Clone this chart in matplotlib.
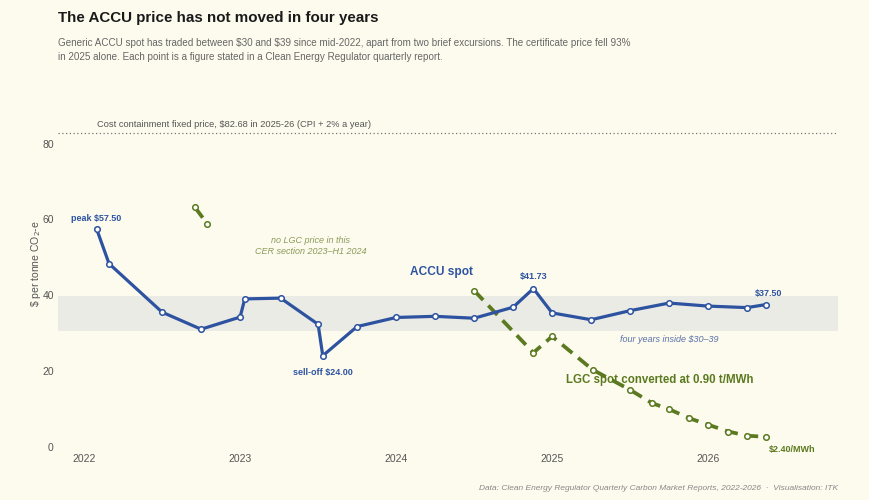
import matplotlib
matplotlib.use("Agg")
from matplotlib import pyplot as plt

plt.rcParams['font.family'] = ['Liberation Sans', 'DejaVu Sans']
plt.rcParams['text.parse_math'] = False

# ACCU generic spot, $/t (CER quarterly reports)
accu_t = [2022.08, 2022.16, 2022.50, 2022.75, 2023.00, 2023.03, 2023.26,
          2023.50, 2023.53, 2023.75, 2024.00, 2024.25, 2024.50, 2024.75,
          2024.88, 2025.00, 2025.25, 2025.50, 2025.75, 2026.00, 2026.25, 2026.37]
accu_p = [57.50, 48.3, 35.5, 31.0, 34.2, 39.0, 39.2,
          32.3, 24.00, 31.7, 34.1, 34.4, 33.9, 36.8,
          41.73, 35.3, 33.5, 35.9, 37.9, 37.1, 36.7, 37.50]

# LGC spot converted to $/t at 0.90 t/MWh
lgc_early_t = [2022.71, 2022.79]
lgc_early_p = [63.2, 58.8]
lgc_t = [2024.50, 2024.88, 2025.00, 2025.26, 2025.50, 2025.64, 2025.75,
         2025.88, 2026.00, 2026.13, 2026.25, 2026.37]
lgc_p = [41.2, 24.8, 29.1, 20.3, 15.0, 11.5, 9.9,
         7.5, 5.8, 4.0, 2.9, 2.6]

band = (30.4, 39.8)
ccp = 82.68
years = [2022, 2023, 2024, 2025, 2026]
yticks = [0, 20, 40, 60, 80]

bg = '#fdfbee'
blue = '#2d53a0'
green = '#5b7a1f'

fig = plt.figure(figsize=(8.7, 5), dpi=100, facecolor=bg)
ax = fig.add_axes([0.0667, 0.1066, 0.8966, 0.667])
ax.set_facecolor(bg)

ax.axhspan(band[0], band[1], color='#ebebe6', zorder=0, lw=0)
ax.axhline(ccp, color='#777777', ls=(0, (1, 2)), lw=0.9, zorder=1)

ax.plot(lgc_early_t, lgc_early_p, color=green, lw=2.7, ls=(0, (3.5, 2)),
        marker='o', ms=4, mfc='white', mec=green, mew=1.1, zorder=2)
ax.plot(lgc_t, lgc_p, color=green, lw=2.7, ls=(0, (3.5, 2)),
        marker='o', ms=4, mfc='white', mec=green, mew=1.1, zorder=2)
ax.plot(accu_t, accu_p, color=blue, lw=2.3, marker='o', ms=4,
        mfc='white', mec=blue, mew=1.1, zorder=3)

ax.set_xlim(2021.833, 2026.833)
ax.set_ylim(0, 88)
ax.set_xticks(years)
ax.set_xticklabels([str(y) for y in years])
ax.set_yticks(yticks)
ax.tick_params(length=0, labelsize=7.5, colors='#555555', pad=3)
ax.tick_params(axis='x', pad=5)
for s in ax.spines.values():
    s.set_visible(False)
ax.set_ylabel(r'\$ per tonne CO$_2$-e', fontsize=7.5, color='#555555', parse_math=True)
ax.yaxis.set_label_coords(-0.019, 0.548)

# annotations
small = dict(fontsize=6.5, fontweight='bold', ha='center', va='center')
ax.text(2022.08, 60.3, 'peak $57.50', color=blue, **small)
ax.text(2023.53, 19.5, 'sell-off $24.00', color=blue, **small)
ax.text(2024.88, 45.0, '$41.73', color=blue, **small)
ax.text(2026.39, 40.5, '$37.50', color=blue, **small)
ax.text(2024.09, 46.0, 'ACCU spot', color=blue, fontsize=8.6, fontweight='bold', ha='left', va='center')
ax.text(2025.75, 28.3, 'four years inside $30\u201339', color='#5a72a8', fontsize=6.5,
        style='italic', ha='center', va='center')
ax.text(2023.45, 53.0, 'no LGC price in this\nCER section 2023\u2013H1 2024', color='#8c9a58',
        fontsize=6.5, style='italic', ha='center', va='center', linespacing=1.3)
ax.text(2025.09, 17.5, 'LGC spot converted at 0.90 t/MWh', color=green, fontsize=8.3,
        fontweight='bold', ha='left', va='center')
ax.text(2026.39, -0.8, '$2.40/MWh', color=green, fontsize=6.5, fontweight='bold', ha='left', va='center')
ax.text(2022.08, 85.0, 'Cost containment fixed price, $82.68 in 2025-26 (CPI + 2% a year)',
        color='#555555', fontsize=6.7, ha='left', va='center')

fig.text(58 / 870, 1 - 18 / 500, 'The ACCU price has not moved in four years',
         fontsize=10.9, fontweight='bold', color='#1a1a1a', ha='left', va='center')
fig.text(58 / 870, 1 - 50 / 500,
         'Generic ACCU spot has traded between $30 and $39 since mid-2022, apart from two brief excursions. '
         'The certificate price fell 93%\nin 2025 alone. Each point is a figure stated in a Clean Energy '
         'Regulator quarterly report.',
         fontsize=7.1, color='#666666', ha='left', va='center', linespacing=1.5)
fig.text(838 / 870, 1 - 488 / 500,
         'Data: Clean Energy Regulator Quarterly Carbon Market Reports, 2022-2026  \u00b7  Visualisation: ITK',
         fontsize=6.0, color='#888888', style='italic', ha='right', va='center')

fig.savefig('out.png', dpi=100, facecolor=bg)
